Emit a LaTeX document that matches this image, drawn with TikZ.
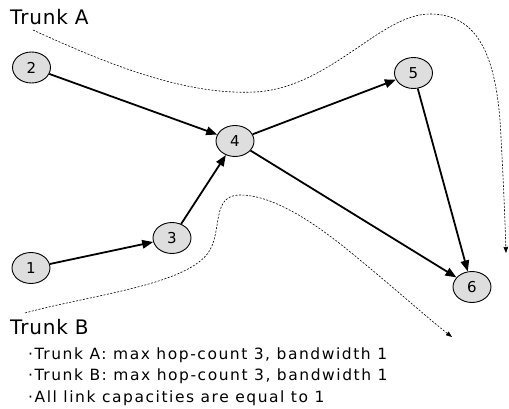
\documentclass[tikz,border=0pt]{standalone}
\usepackage{fontspec}
\setmainfont{DejaVu Sans}
\usetikzlibrary{shapes.geometric,arrows.meta}
\begin{document}
\begin{tikzpicture}[x=1pt,y=-1pt,
  nd/.style={ellipse,draw=black,line width=0.9pt,fill=black!13,minimum width=38pt,minimum height=31pt,inner sep=0pt,font=\fontsize{15}{15}\selectfont},
  edge/.style={line width=1.8pt,-{Triangle[length=11pt,width=8.5pt]}},
  trunk/.style={line width=0.6pt,dash pattern=on 2pt off 1.5pt,-{Triangle[length=6pt,width=4.5pt]}},
  lbl/.style={anchor=base west,inner sep=0pt,font=\fontsize{20}{20}\selectfont\addfontfeature{LetterSpace=4}},
  bul/.style={anchor=base west,inner sep=0pt,font=\fontsize{15.5}{15.5}\selectfont\addfontfeature{LetterSpace=10}}]
\useasboundingbox (0,0) rectangle (509,409);
\node[nd] (n2) at (31.5,67.5) {2};
\node[nd] (n4) at (235,141) {4};
\node[nd] (n5) at (413.5,73) {5};
\node[nd] (n3) at (172,238) {3};
\node[nd] (n1) at (31,268) {1};
\node[nd] (n6) at (472,287) {6};
\draw[edge] (n2) -- (n4);
\draw[edge] (n4) -- (n5);
\draw[edge] (n5) -- (n6);
\draw[edge] (n4) -- (n6);
\draw[edge] (n3) -- (n4);
\draw[edge] (n1) -- (n3);
\node[lbl] (ta) at (10,25) {Trunk A};
\node[lbl] (tb) at (10,334) {Trunk B};
\coordinate (as) at (33,30);
\coordinate (ae) at (506,253);
\coordinate (bs) at (25,313);
\coordinate (be) at (452,337);
\draw[trunk] (as) .. controls (120,70) and (190,95) .. (255,92)
  .. controls (330,88) and (380,14) .. (430,14)
  .. controls (480,14) and (495,60) .. (500,120)
  .. controls (503,170) and (505,220) .. (ae);
\draw[trunk] (bs) .. controls (90,295) and (190,285) .. (210,250)
  .. controls (222,228) and (212,195) .. (240,195)
  .. controls (280,195) and (330,235) .. (360,260)
  .. controls (400,293) and (430,320) .. (be);
\node[bul] (b1) at (28,359) {·Trunk A: max hop-count 3, bandwidth 1};
\node[bul] (b2) at (28,380) {·Trunk B: max hop-count 3, bandwidth 1};
\node[bul] (b3) at (28,402) {·All link capacities are equal to 1};
\end{tikzpicture}
\end{document}
